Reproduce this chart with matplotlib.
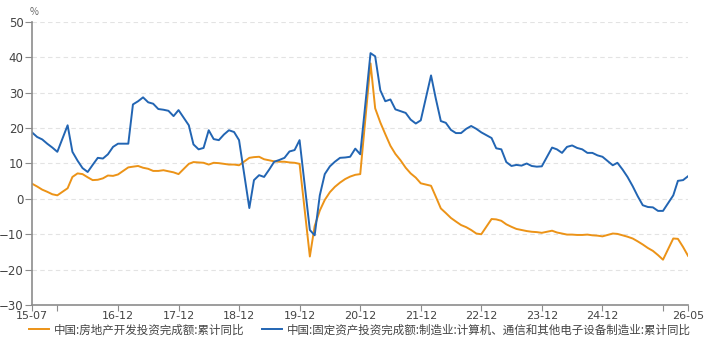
import numpy as np
import pandas as pd
import matplotlib
matplotlib.use("Agg")
import matplotlib.pyplot as plt

plt.rcParams["font.family"] = ["Noto Sans CJK SC", "DejaVu Sans"]

# ─────────────────────────────────────────────
# Data (monthly, cumulative YoY %, no January prints)
# ─────────────────────────────────────────────
START, END = "2015-07-01", "2026-05-01"

realestate = [
    4.3, 3.5, 2.6, 2.0, 1.3, 1.0,                                  # 2015
    3.0, 6.2, 7.2, 7.0, 6.1, 5.3, 5.4, 5.8, 6.6, 6.5, 6.9,         # 2016
    8.9, 9.1, 9.3, 8.8, 8.5, 7.9, 7.9, 8.1, 7.8, 7.5, 7.0,         # 2017
    9.9, 10.4, 10.3, 10.2, 9.7, 10.2, 10.1, 9.9, 9.7, 9.7, 9.5,    # 2018
    11.6, 11.8, 11.9, 11.2, 10.9, 10.6, 10.5, 10.5, 10.3, 10.2, 9.9,  # 2019
    -16.3, -7.7, -3.3, -0.3, 1.9, 3.4, 4.6, 5.6, 6.3, 6.8, 7.0,    # 2020
    38.3, 25.6, 21.6, 18.3, 15.0, 12.7, 10.9, 8.8, 7.2, 6.0, 4.4,  # 2021
    3.7, 0.7, -2.7, -4.0, -5.4, -6.4, -7.4, -8.0, -8.8, -9.8, -10.0,  # 2022
    -5.7, -5.8, -6.2, -7.2, -7.9, -8.5, -8.8, -9.1, -9.3, -9.4, -9.6,  # 2023
    -9.0, -9.5, -9.8, -10.1, -10.1, -10.2, -10.2, -10.1, -10.3, -10.4, -10.6,  # 2024
    -9.8, -9.9, -10.3, -10.7, -11.2, -12.0, -12.9, -13.9, -14.7, -15.9, -17.2,  # 2025
    -11.2, -11.3, -13.6, -16.1,                                    # 2026
]

electronics = [
    18.8, 17.5, 16.8, 15.6, 14.5, 13.3,                            # 2015
    20.8, 13.3, 10.8, 8.7, 7.6, 9.6, 11.6, 11.4, 12.6, 14.7, 15.6,  # 2016
    15.6, 26.7, 27.6, 28.7, 27.3, 26.9, 25.4, 25.2, 24.9, 23.4, 25.1,  # 2017
    20.8, 15.4, 14.0, 14.4, 19.4, 16.9, 16.6, 18.2, 19.4, 18.9, 16.6,  # 2018
    -2.6, 5.3, 6.7, 6.2, 8.3, 10.5, 11.0, 11.6, 13.4, 13.8, 16.6,  # 2019
    -8.8, -10.3, 1.0, 7.0, 9.2, 10.5, 11.6, 11.7, 11.9, 14.2, 12.6,  # 2020
    41.2, 40.3, 30.7, 27.6, 28.1, 25.3, 24.8, 24.3, 22.4, 21.3, 22.2,  # 2021
    34.9, 28.5, 22.0, 21.5, 19.5, 18.6, 18.6, 19.8, 20.6, 19.8, 18.8,  # 2022
    17.2, 14.3, 14.0, 10.4, 9.3, 9.6, 9.4, 10.0, 9.3, 9.1, 9.2,    # 2023
    14.5, 14.0, 13.0, 14.7, 15.1, 14.4, 14.0, 13.0, 13.0, 12.3, 11.9,  # 2024
    9.5, 10.2, 8.3, 6.2, 3.6, 0.8, -1.8, -2.3, -2.4, -3.4, -3.4,   # 2025
    1.0, 5.1, 5.3, 6.4,                                            # 2026
]

TICK_DATES  = ["2015-07", "2015-12", "2016-12", "2017-12", "2018-12", "2019-12",
               "2020-12", "2021-12", "2022-12", "2023-12", "2024-12", "2025-12",
               "2026-05"]
TICK_LABELS = ["15-07", "", "16-12", "17-12", "18-12", "19-12", "20-12",
               "21-12", "22-12", "23-12", "24-12", "", "26-05"]

LABEL_RE = "中国:房地产开发投资完成额:累计同比"
LABEL_EL = "中国:固定资产投资完成额:制造业:计算机、通信和其他电子设备制造业:累计同比"

C_ORANGE = "#EC9317"
C_BLUE   = "#2265B3"
C_TEXT   = "#444444"
C_AXIS   = "#8C8C8C"


def main():
    dates = pd.date_range(START, END, freq="MS")
    dates = dates[dates.month != 1]

    fig = plt.figure(figsize=(7.2, 3.37), dpi=100)
    ax = fig.add_axes([0.0444, 0.095, 0.9112, 0.8397])

    ax.plot(dates, realestate, color=C_ORANGE, lw=1.4, label=LABEL_RE)
    ax.plot(dates, electronics, color=C_BLUE, lw=1.4, label=LABEL_EL)

    ax.set_xlim(pd.Timestamp(START), pd.Timestamp(END))
    ax.set_ylim(-30, 50)
    ax.set_yticks(np.arange(-30, 51, 10))
    ax.set_xticks(pd.to_datetime(TICK_DATES))
    ax.set_xticklabels(TICK_LABELS)

    for y in range(-20, 51, 10):
        ax.axhline(y, color="#E3E3E3", lw=0.8, ls=(0, (4, 3)), zorder=0)

    for side in ["top", "right"]:
        ax.spines[side].set_visible(False)
    for side in ["left", "bottom"]:
        ax.spines[side].set_color(C_AXIS)
        ax.spines[side].set_linewidth(1.2)

    ax.tick_params(axis="y", length=5, width=0.8, color=C_AXIS, pad=1,
                   labelsize=8.5, labelcolor=C_TEXT)
    ax.tick_params(axis="x", length=4, width=0.8, color=C_AXIS, pad=0,
                   labelsize=8, labelcolor=C_TEXT)
    for lab in ax.get_xticklabels() + ax.get_yticklabels():
        lab.set_family("DejaVu Sans")

    ax.text(-0.004, 1.035, "%", transform=ax.transAxes, fontsize=7,
            color="#666666", ha="left", va="center")

    fig.legend(loc="center", bbox_to_anchor=(0.5, 0.021), ncol=2,
               frameon=False, fontsize=8.3, handlelength=1.75,
               columnspacing=1.5, handletextpad=0.44, labelcolor=C_TEXT,
               borderpad=0.1)

    fig.savefig("out.png", dpi=100)
    plt.close(fig)


if __name__ == "__main__":
    main()
